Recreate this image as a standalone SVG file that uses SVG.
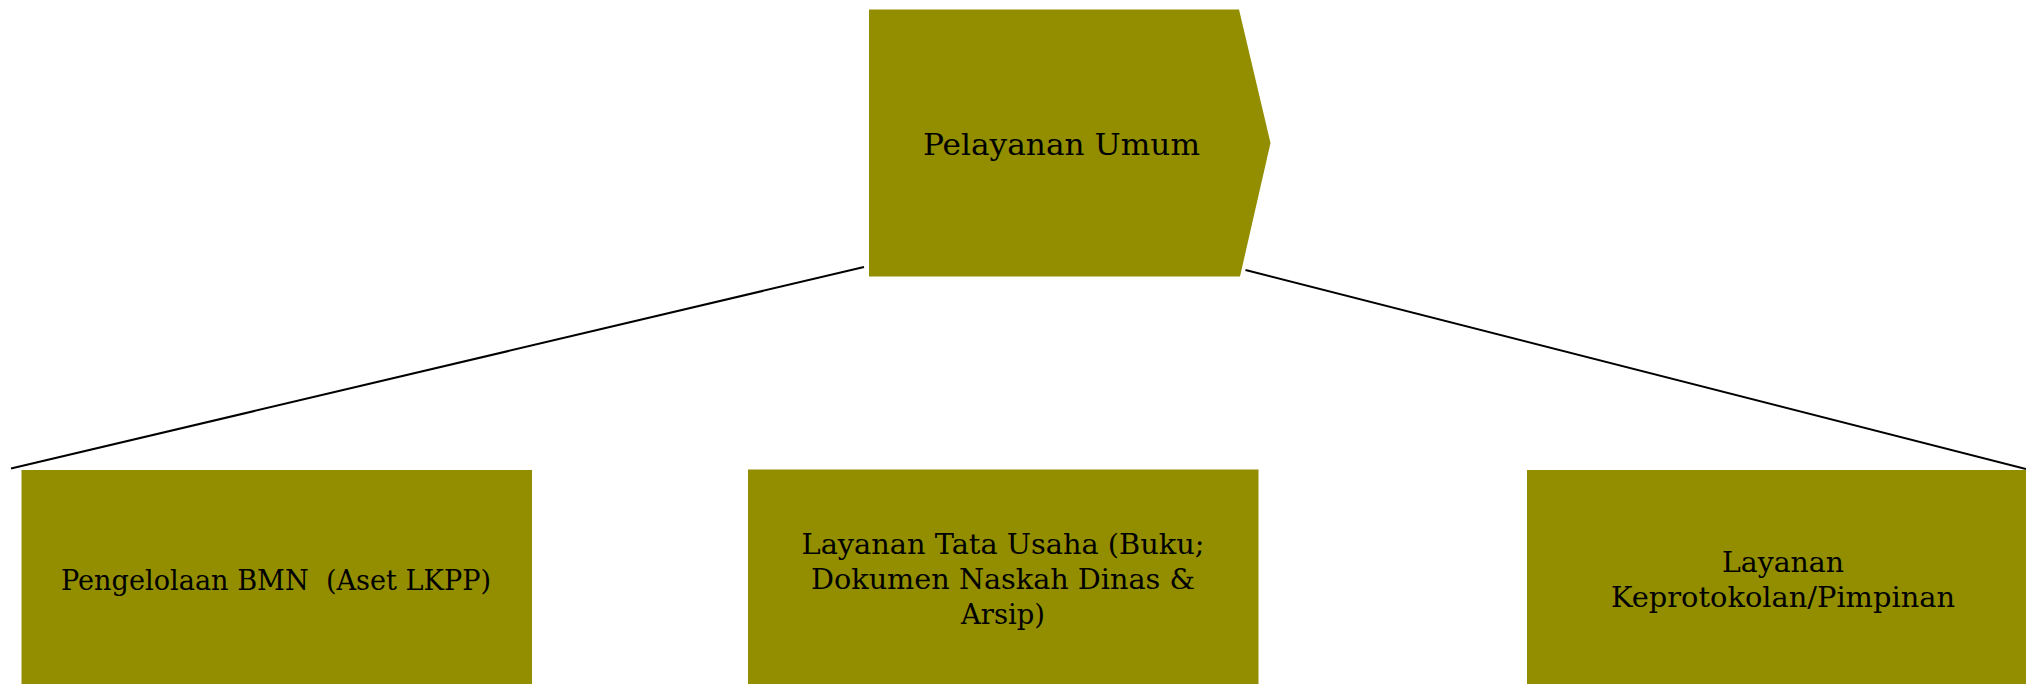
<svg xmlns="http://www.w3.org/2000/svg" width="2026" height="684" viewBox="0 0 2026 684">
  <style>
    .box { fill: #928e00; }
    .lbl { font-family: "DejaVu Serif", "Liberation Serif", serif; font-size: 27px; fill: #000; text-anchor: middle; }
    .lbl-top { font-size: 29px; }
    .conn { stroke: #000; stroke-width: 2; fill: none; }
  </style>
  <rect width="2026" height="684" fill="#fff"/>

  <!-- connectors from the root to the outer children -->
  <g id="connectors">
    <line class="conn" x1="864" y1="267" x2="11" y2="468.5"/>
    <line class="conn" x1="1245.5" y1="270" x2="2026" y2="469"/>
  </g>

  <!-- root: pentagon-shaped header -->
  <g id="node-pelayanan-umum">
    <polygon class="box" points="869,9.5 1239,9.5 1270.5,143 1240,276.5 869,276.5"/>
    <text class="lbl lbl-top" x="1061.5" y="155" textLength="277" lengthAdjust="spacingAndGlyphs">Pelayanan Umum</text>
  </g>

  <!-- children -->
  <g id="node-pengelolaan-bmn">
    <rect class="box" x="21.5" y="470" width="510.5" height="220"/>
    <text class="lbl" x="276" y="590" textLength="430" lengthAdjust="spacingAndGlyphs" xml:space="preserve">Pengelolaan BMN  (Aset LKPP)</text>
  </g>

  <g id="node-layanan-tata-usaha">
    <rect class="box" x="748" y="469.5" width="510.5" height="220"/>
    <text class="lbl" x="1003" y="553.5" textLength="403" lengthAdjust="spacingAndGlyphs">Layanan Tata Usaha (Buku;</text>
    <text class="lbl" x="1003" y="588.5" textLength="384" lengthAdjust="spacingAndGlyphs">Dokumen Naskah Dinas &amp;</text>
    <text class="lbl" x="1003" y="623.5" textLength="84" lengthAdjust="spacingAndGlyphs">Arsip)</text>
  </g>

  <g id="node-layanan-keprotokolan">
    <rect class="box" x="1527" y="470" width="520" height="220"/>
    <text class="lbl" x="1783" y="571.5" textLength="122" lengthAdjust="spacingAndGlyphs">Layanan</text>
    <text class="lbl" x="1783" y="606.5" textLength="344" lengthAdjust="spacingAndGlyphs">Keprotokolan/Pimpinan</text>
  </g>
</svg>
